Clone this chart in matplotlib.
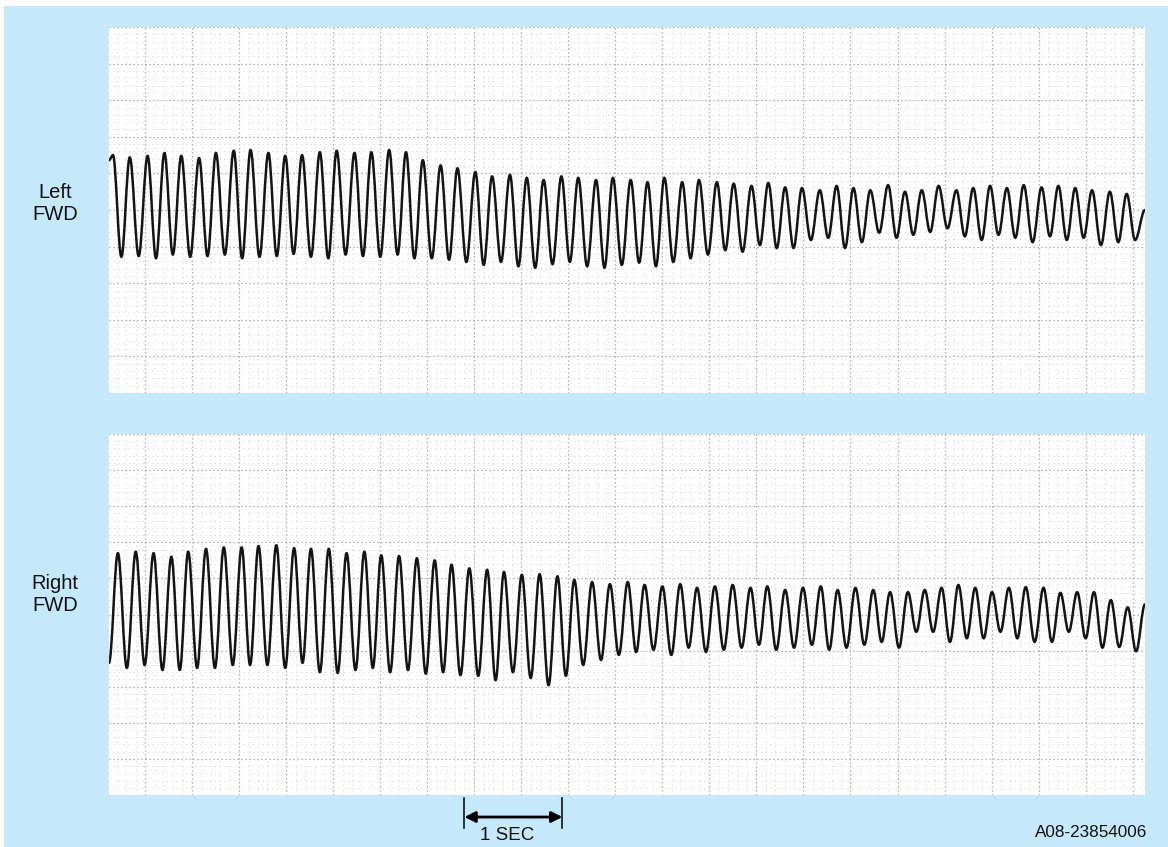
import numpy as np
import matplotlib
matplotlib.use("Agg")
import matplotlib.pyplot as plt
from matplotlib.path import Path
from matplotlib.patches import PathPatch, Rectangle
from matplotlib.transforms import blended_transform_factory

plt.rcParams['font.family'] = ['Liberation Sans', 'DejaVu Sans']

# ---------------------------------------------------------------------------
# Strip-chart record: forward accelerometer traces (deflection in chart
# divisions, time in seconds)
# ---------------------------------------------------------------------------
record_seconds = 10.465
deflection_range = (0, 50)

channel_labels = ["Left\nFWD", "Right\nFWD"]

left_peak_t = [0.04, 0.21, 0.39, 0.56, 0.73, 0.91, 1.08, 1.26, 1.43, 1.61,
               1.78, 1.95, 2.13, 2.30, 2.48, 2.65, 2.83, 3.00, 3.17, 3.35,
               3.52, 3.70, 3.87, 4.05, 4.22, 4.39, 4.57, 4.74, 4.92, 5.09,
               5.27, 5.44, 5.61, 5.79, 5.96, 6.14, 6.31, 6.49, 6.66, 6.83,
               7.00, 7.18, 7.35, 7.52, 7.69, 7.87, 8.04, 8.21, 8.38, 8.56,
               8.73, 8.90, 9.07, 9.24, 9.42, 9.59, 9.76, 9.93, 10.11, 10.28]
left_peak = [32.5, 32.2, 32.4, 32.8, 32.4, 32.1, 32.8, 33.1, 33.2, 32.8,
             32.4, 32.5, 32.9, 33.1, 32.8, 32.9, 33.2, 32.9, 31.8, 31.1,
             30.7, 30.2, 29.6, 29.8, 29.4, 29.1, 29.6, 29.4, 29.1, 29.4,
             29.1, 28.8, 29.4, 28.8, 29.1, 28.8, 28.6, 28.3, 28.7, 28.1,
             28.0, 27.7, 28.3, 28.0, 27.7, 28.4, 27.5, 27.7, 28.3, 27.7,
             28.0, 28.3, 28.0, 28.4, 28.1, 28.3, 28.0, 27.7, 27.5, 27.2]
left_trough = [18.6, 18.7, 18.4, 18.9, 18.6, 18.7, 18.9, 18.4, 18.6, 18.7,
               19.0, 18.6, 18.4, 18.9, 18.7, 18.6, 18.9, 18.4, 18.4, 18.2,
               17.9, 17.5, 17.9, 17.3, 17.1, 17.6, 17.9, 17.3, 17.1, 17.5,
               17.8, 17.3, 17.9, 18.4, 18.9, 19.5, 19.3, 20.2, 19.8, 19.8,
               20.9, 21.2, 19.8, 20.6, 21.9, 21.2, 21.6, 22.0, 22.5, 21.4,
               20.9, 21.6, 21.2, 20.6, 21.4, 20.9, 21.2, 20.2, 20.6, 20.9]
left_start, left_end = 31.8, 25.0

right_peak_t = [0.09, 0.27, 0.45, 0.63, 0.80, 0.98, 1.16, 1.34, 1.51, 1.69,
                1.87, 2.04, 2.22, 2.40, 2.58, 2.75, 2.93, 3.11, 3.29, 3.46,
                3.64, 3.82, 3.99, 4.17, 4.35, 4.53, 4.70, 4.88, 5.06, 5.24,
                5.41, 5.59, 5.77, 5.94, 6.12, 6.30, 6.48, 6.65, 6.83, 7.01,
                7.19, 7.36, 7.54, 7.72, 7.89, 8.07, 8.24, 8.41, 8.58, 8.75,
                8.92, 9.09, 9.26, 9.44, 9.61, 9.78, 9.95, 10.12, 10.29]
right_peak = [33.5, 33.7, 33.5, 33.0, 33.7, 34.1, 34.3, 34.3, 34.5, 34.6,
              34.2, 34.1, 34.1, 33.5, 33.7, 33.2, 33.1, 32.8, 32.5, 31.9,
              31.4, 31.2, 30.9, 30.5, 30.6, 30.3, 29.8, 29.5, 29.2, 29.5,
              29.1, 28.9, 29.2, 28.7, 28.9, 29.1, 28.7, 28.9, 28.4, 28.7,
              28.9, 28.4, 28.7, 28.4, 28.1, 28.1, 28.4, 28.7, 29.1, 28.7,
              28.1, 28.7, 28.8, 28.7, 28.0, 28.1, 28.1, 27.0, 26.0]
right_trough = [17.6, 18.0, 17.3, 17.3, 17.6, 17.6, 18.0, 18.0, 18.0, 17.6,
                18.3, 17.0, 16.9, 17.3, 17.6, 17.0, 17.3, 16.8, 17.0, 16.6,
                16.5, 15.9, 17.0, 16.2, 15.2, 16.5, 18.0, 18.7, 19.4, 19.8,
                20.1, 19.4, 20.4, 19.8, 20.1, 20.4, 20.8, 20.1, 20.4, 20.8,
                20.1, 20.4, 20.8, 21.2, 20.4, 22.6, 22.6, 21.2, 21.7, 21.7,
                22.6, 21.7, 21.2, 21.2, 22.6, 21.7, 20.4, 20.5, 19.9]
right_start, right_end = 18.3, 26.4

scale_bar = (3.59, 4.58)          # the "1 SEC" marker, seconds
drawing_number = "A08-23854006"

# ---------------------------------------------------------------------------
BACKGROUND = "#c5e8fb"
TRACE = "#141414"
W, H = 1168, 847

fig = plt.figure(figsize=(W / 100, H / 100), dpi=100)
fig.patch.set_facecolor("white")
fig.patches.append(Rectangle((4 / W, 0), 1 - 4 / W, 1 - 6 / H,
                             transform=fig.transFigure, facecolor=BACKGROUND,
                             edgecolor="none", zorder=-10))


def extrema(peak_t, peaks, troughs, start, end):
    """Alternating peak / trough vertices of one trace."""
    pts = [(0.0, start)]
    for i, (t, p) in enumerate(zip(peak_t, peaks)):
        pts.append((t, p))
        if i < len(troughs):
            if i + 1 < len(peak_t):
                tt = 0.5 * (t + peak_t[i + 1])
            else:
                tt = t + 0.5 * (t - peak_t[i - 1])
            pts.append((tt, troughs[i]))
    pts.append((record_seconds, end))
    return pts


def smooth_trace(pts, k=0.363):
    """Cubic Bezier path with flat tangents at every extremum."""
    verts = [pts[0]]
    codes = [Path.MOVETO]
    for (x0, y0), (x1, y1) in zip(pts[:-1], pts[1:]):
        dx = x1 - x0
        verts += [(x0 + k * dx, y0), (x1 - k * dx, y1), (x1, y1)]
        codes += [Path.CURVE4] * 3
    return Path(verts, codes)


MAJOR_STYLE = dict(color="#9c9c9c", lw=0.9, ls=(0, (1, 2.2)), zorder=1)
MINOR_STYLE = dict(color="#d2d2d2", lw=0.75, ls=(0, (1, 3.6)), zorder=1)


def chart_paper(ax):
    minor_t = 0.095
    first_t = -0.11
    n = 0
    x = first_t
    while x <= record_seconds:
        if x >= 0:
            ax.axvline(x, **(MAJOR_STYLE if n % 5 == 0 else MINOR_STYLE))
        n += 1
        x = first_t + n * minor_t
    for y in range(deflection_range[0], deflection_range[1] + 1):
        ax.axhline(y, **(MAJOR_STYLE if y % 5 == 0 else MINOR_STYLE))


def panel(rect, peak_t, peaks, troughs, start, end, label, label_y):
    ax = fig.add_axes(rect)
    ax.set_facecolor("white")
    ax.set_xlim(0, record_seconds)
    ax.set_ylim(*deflection_range)
    for s in ax.spines.values():
        s.set_visible(False)
    ax.set_xticks([])
    ax.set_yticks([])
    chart_paper(ax)
    path = smooth_trace(extrema(peak_t, peaks, troughs, start, end))
    ax.add_patch(PathPatch(path, facecolor="none", edgecolor=TRACE, lw=1.8,
                           joinstyle="round", capstyle="round", zorder=3))
    fig.text(55 / W, 1 - label_y / H, label, ha="center", va="center",
             fontsize=14.5, color="#111111", linespacing=1.2)
    return ax


ax_top = panel([109 / W, 1 - 393 / H, 1036 / W, 366 / H],
               left_peak_t, left_peak, left_trough, left_start, left_end,
               channel_labels[0], 203)
ax_bot = panel([109 / W, 1 - 795 / H, 1036 / W, 361 / H],
               right_peak_t, right_peak, right_trough, right_start, right_end,
               channel_labels[1], 594)

# time scale marker under the lower record
tr = blended_transform_factory(ax_bot.transData, ax_bot.transAxes)
for x in scale_bar:
    ax_bot.plot([x, x], [-0.008, -0.092], color="black", lw=1.1,
                transform=tr, clip_on=False, zorder=4)
ax_bot.annotate("", xy=(scale_bar[0], -0.061), xytext=(scale_bar[1], -0.061),
                xycoords=tr, textcoords=tr,
                arrowprops=dict(arrowstyle="<|-|>", color="black", lw=2.0,
                                mutation_scale=16, shrinkA=0, shrinkB=0),
                annotation_clip=False)
ax_bot.text(sum(scale_bar) / 2 - 0.06, -0.112, "1 SEC", transform=tr,
            ha="center", va="center", fontsize=13.5, color="#111111")

fig.text(1091 / W, 1 - 832 / H, drawing_number, ha="center", va="center",
         fontsize=12.3, color="#111111")

fig.savefig("out.png", dpi=100, facecolor=fig.get_facecolor())
